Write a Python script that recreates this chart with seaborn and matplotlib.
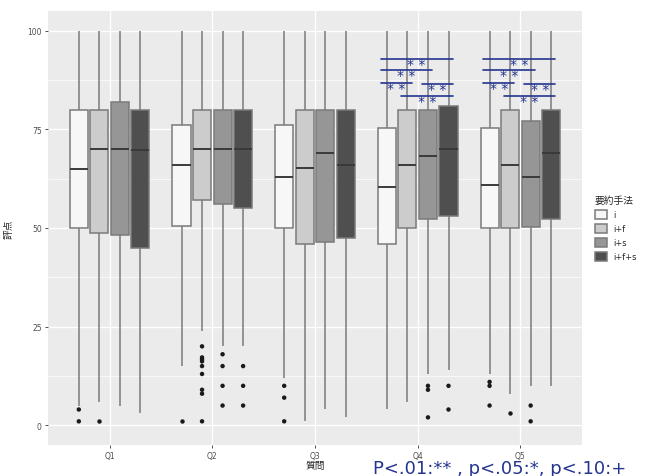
import numpy as np
import pandas as pd
import seaborn as sns
import matplotlib.pyplot as plt

# box summaries (rows: Q1..Q5, cols: i, i+f, i+s, i+f+s)
questions = ['Q1', 'Q2', 'Q3', 'Q4', 'Q5']
methods = ['i', 'i+f', 'i+s', 'i+f+s']

whisker_low = [[5, 6, 5, 3],
               [15, 24, 20, 20],
               [12, 1, 4, 2],
               [4, 6, 13, 14],
               [13, 8, 10, 10]]
lower_q = [[50, 48.7, 48.3, 45],
           [50.5, 57, 56, 55],
           [50, 46, 46.4, 47.5],
           [46, 50, 52.2, 53],
           [50, 50, 50.2, 52.3]]
medians = [[65, 70, 70, 69.7],
           [66, 70, 70, 70],
           [63, 65.3, 69, 66],
           [60.3, 66, 68.2, 70],
           [61, 66, 63, 69]]
upper_q = [[80, 80, 82, 80],
           [76, 80, 80, 80],
           [76, 80, 80, 80],
           [75.3, 80, 79.8, 81],
           [75.3, 80, 77.2, 80]]
whisker_high = [[100, 100, 100, 100]] * 5

outliers = {
    ('Q1', 'i'): [4, 1],
    ('Q1', 'i+f'): [1],
    ('Q2', 'i'): [1],
    ('Q2', 'i+f'): [20, 17.2, 16.7, 16.2, 15, 13, 9, 8, 1],
    ('Q2', 'i+s'): [18, 15, 10, 5],
    ('Q2', 'i+f+s'): [15, 10, 5],
    ('Q3', 'i'): [10, 7, 1],
    ('Q4', 'i+s'): [10, 9, 2],
    ('Q4', 'i+f+s'): [10, 4],
    ('Q5', 'i'): [11, 10, 5],
    ('Q5', 'i+f'): [3],
    ('Q5', 'i+s'): [5, 1],
}

# significance marks added on Q4 and Q5
sig_questions = ['Q4', 'Q5']
sig_pairs = [('i', 'i+f+s'), ('i', 'i+s'), ('i', 'i+f'), ('i+s', 'i+f+s'), ('i+f', 'i+f+s')]
sig_levels = [92.9, 90.0, 86.8, 86.5, 83.5]
sig_labels = ['* *'] * 5

# five points per box give exactly these quartiles, whiskers go to min/max
rows = []
for qi, q in enumerate(questions):
    for mi, m in enumerate(methods):
        for v in [whisker_low[qi][mi], lower_q[qi][mi], medians[qi][mi],
                  upper_q[qi][mi], whisker_high[qi][mi]]:
            rows.append({'question': q, 'method': m, 'score': v})
box_df = pd.DataFrame(rows)

out_rows = [{'question': q, 'method': m, 'score': v}
            for (q, m), vals in outliers.items() for v in vals]
out_df = pd.DataFrame(out_rows)

sns.set_theme(style='darkgrid', rc={'axes.facecolor': '#EBEBEB',
                                    'grid.color': 'white'})
plt.rcParams['font.family'] = ['DejaVu Sans', 'Noto Sans CJK JP']

palette = ['#F7F7F7', '#CCCCCC', '#969696', '#4F4F4F']
navy = '#24358f'

fig = plt.figure(figsize=(6.48, 4.77), dpi=100)
ax = fig.add_axes([48 / 648, 1 - 446 / 477, 534 / 648, 434 / 477])

sns.boxplot(data=box_df, x='question', y='score', hue='method',
            order=questions, hue_order=methods, palette=palette,
            whis=np.inf, width=0.8, gap=0.12, linewidth=1.1,
            linecolor='#7a7a7a', showcaps=False,
            medianprops={'color': '#3a3a3a', 'linewidth': 1.4}, ax=ax)
sns.stripplot(data=out_df, x='question', y='score', hue='method',
              order=questions, hue_order=methods, dodge=True, jitter=False,
              palette=['#1a1a1a'] * 4, size=3.2, legend=False, ax=ax)

# brackets with stars
slot = 0.8 / len(methods)
for q in sig_questions:
    xc = questions.index(q)
    for (a, b), lev, lab in zip(sig_pairs, sig_levels, sig_labels):
        x0 = xc + (methods.index(a) - 1.5) * slot - 0.06
        x1 = xc + (methods.index(b) - 1.5) * slot + 0.04
        ax.plot([x0, x1], [lev, lev], color=navy, lw=1.2, zorder=5)
        ax.text((x0 + x1) / 2, lev - 2.3, lab, color=navy, fontsize=10,
                ha='center', va='baseline', zorder=6)

ax.set_xlim(-0.6, len(questions) - 0.4)
ax.set_ylim(-5, 105)
ax.set_yticks([0, 25, 50, 75, 100])
ax.set_yticks([12.5, 37.5, 62.5, 87.5], minor=True)
ax.grid(which='major', color='white', lw=1.0)
ax.grid(which='minor', axis='y', color='white', lw=0.5)
ax.tick_params(axis='both', which='major', labelsize=5.5, labelcolor='#4d4d4d',
               length=2.5, color='#333333', width=0.6, pad=2,
               bottom=True, left=True)
ax.tick_params(which='minor', length=0)
for s in ax.spines.values():
    s.set_visible(False)

ax.set_xlabel('質問', fontsize=7, family=['Noto Sans CJK JP'], labelpad=0)
ax.set_ylabel('評点', fontsize=7, family=['Noto Sans CJK JP'], labelpad=10)

leg = ax.legend(title='要約手法', loc='center left', bbox_to_anchor=(1.01, 0.5),
                frameon=False, fontsize=6, title_fontsize=7,
                handlelength=1.4, handleheight=1.3, labelspacing=0.55)
leg.get_title().set_family(['Noto Sans CJK JP'])
leg._legend_box.align = 'left'

fig.text(373 / 648, 1 - 474.5 / 477, 'P<.01:** , p<.05:*, p<.10:+',
         color=navy, fontsize=13, ha='left', va='baseline')

plt.savefig('out.png', dpi=100)
